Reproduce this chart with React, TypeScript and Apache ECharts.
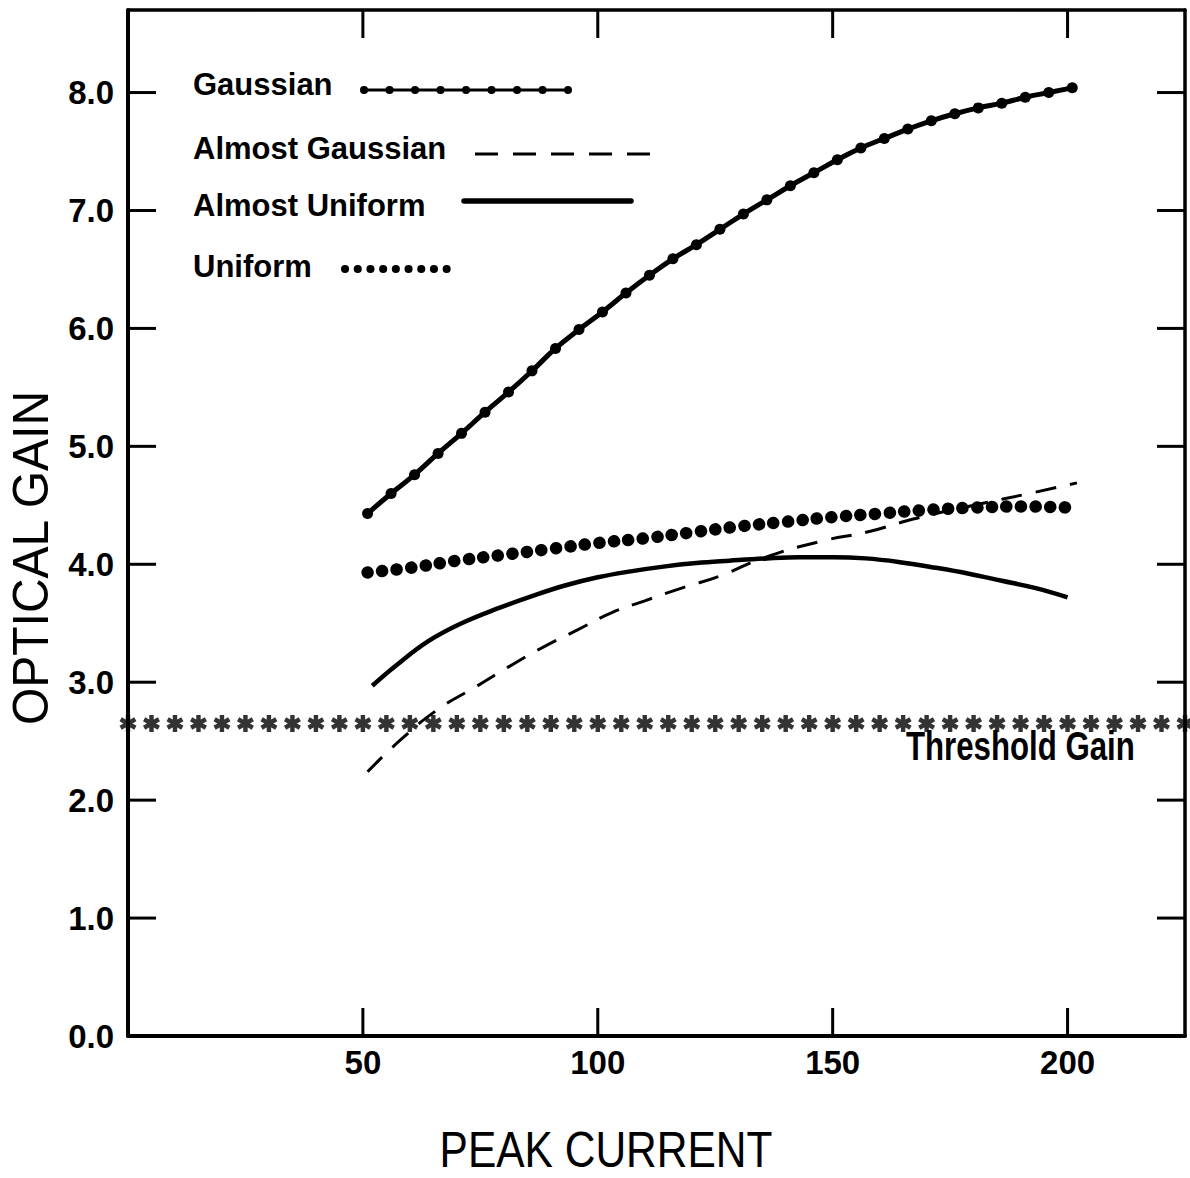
import React, { useEffect, useRef } from "react";
import * as echarts from "echarts";

// ---- data ----
const X_TICKS = [50, 100, 150, 200];
const Y_TICKS = [0, 1, 2, 3, 4, 5, 6, 7, 8];

const GAUSS_X = [51, 56, 61, 66, 71, 76, 81, 86, 91, 96, 101, 106, 111, 116, 121, 126, 131, 136, 141, 146, 151, 156, 161, 166, 171, 176, 181, 186, 191, 196, 201];
const GAUSS_Y = [4.43, 4.6, 4.76, 4.94, 5.11, 5.29, 5.46, 5.64, 5.83, 5.99, 6.14, 6.3, 6.45, 6.59, 6.71, 6.84, 6.97, 7.09, 7.21, 7.32, 7.43, 7.53, 7.61, 7.69, 7.76, 7.82, 7.87, 7.91, 7.96, 8.0, 8.04];

const ALMOST_GAUSS_X = [51, 58, 66, 74, 81, 88.5, 96, 103, 110, 118, 126, 135, 147, 158, 165, 172, 180, 193, 202];
const ALMOST_GAUSS_Y = [2.24, 2.51, 2.77, 2.96, 3.13, 3.3, 3.45, 3.59, 3.69, 3.8, 3.9, 4.05, 4.19, 4.28, 4.36, 4.43, 4.5, 4.61, 4.69];

const ALMOST_UNIF_X = [52, 57, 64, 71, 79, 86, 93, 100, 107, 114, 121, 128, 136, 143, 150, 157, 164, 172, 179, 186, 193, 200];
const ALMOST_UNIF_Y = [2.97, 3.14, 3.35, 3.5, 3.63, 3.73, 3.82, 3.89, 3.94, 3.98, 4.01, 4.03, 4.05, 4.06, 4.06, 4.05, 4.02, 3.97, 3.92, 3.86, 3.8, 3.72];

const UNIF_X = [51, 60, 70, 80, 90, 100, 110, 120, 130, 140, 150, 160, 170, 180, 190, 201];
const UNIF_Y = [3.93, 3.97, 4.03, 4.08, 4.13, 4.18, 4.22, 4.27, 4.32, 4.36, 4.4, 4.43, 4.46, 4.48, 4.49, 4.48];

const THRESHOLD_GAIN = 2.65;
const THRESHOLD_STAR_X = [0, 5, 10, 15, 20, 25, 30, 35, 40, 45, 50, 55, 60, 65, 70, 75, 80, 85, 90, 95, 100, 105, 110, 115, 120, 125, 130, 135, 140, 145, 150, 155, 160, 165, 170, 175, 180, 185, 190, 195, 200, 205, 210, 215, 220, 225];

const LEGEND_NAMES = ["Gaussian", "Almost Gaussian", "Almost Uniform", "Uniform"];

const X_MIN = 0;
const X_MAX = 225;
const Y_MIN = 0;
const Y_MAX = 8.7;

const FONT = "'Liberation Sans', Arial, Helvetica, sans-serif";

const zip = (xs: number[], ys: number[]) => xs.map((x, i) => [x, ys[i]]);

const STAR_PATH =
  "path://M7.4 0L12.6 0L12.6 20L7.4 20Z M17.36 2.75L19.96 7.25L2.64 17.25L0.04 12.75Z M19.96 12.75L17.36 17.25L0.04 7.25L2.64 2.75Z";

export default function App() {
  const ref = useRef<HTMLDivElement>(null);

  useEffect(() => {
    document.body.style.margin = "0";
    if (!ref.current) return;
    const chart = echarts.init(ref.current, undefined, { renderer: "svg" });

    const GRID = { left: 128, top: 10, width: 1057, height: 1026 };
    const TICK_LEN = 28;

    const axisLine = (w: number) => ({ show: true, onZero: false, lineStyle: { color: "#000", width: w } });

    const option: any = {
      animation: false,
      backgroundColor: "#fff",
      grid: { ...GRID, containLabel: false },
      xAxis: [
        {
          type: "value",
          min: X_MIN,
          max: X_MAX,
          interval: 50,
          position: "bottom",
          axisLine: axisLine(4),
          axisTick: { show: false },
          splitLine: { show: false },
          axisLabel: {
            margin: 10,
            color: "#000",
            fontFamily: FONT,
            fontWeight: "bold",
            fontSize: 33,
            formatter: (v: number) => (X_TICKS.includes(v) ? String(v) : ""),
          },
        },
        {
          type: "value",
          min: X_MIN,
          max: X_MAX,
          interval: 50,
          position: "top",
          axisLine: axisLine(3.5),
          axisTick: { show: false },
          splitLine: { show: false },
          axisLabel: { show: false },
        },
      ],
      yAxis: [
        {
          type: "value",
          min: Y_MIN,
          max: Y_MAX,
          interval: 1,
          position: "left",
          axisLine: axisLine(4),
          axisTick: { show: false },
          splitLine: { show: false },
          axisLabel: {
            margin: 14,
            color: "#000",
            fontFamily: FONT,
            fontWeight: "bold",
            fontSize: 33,
            formatter: (v: number) => (Y_TICKS.includes(v) ? v.toFixed(1) : ""),
          },
        },
        {
          type: "value",
          min: Y_MIN,
          max: Y_MAX,
          interval: 1,
          position: "right",
          axisLine: axisLine(3.5),
          axisTick: { show: false },
          splitLine: { show: false },
          axisLabel: { show: false },
        },
      ],
      series: [
        {
          name: LEGEND_NAMES[0],
          type: "line",
          data: zip(GAUSS_X, GAUSS_Y),
          smooth: true,
          symbol: "circle",
          symbolSize: 11,
          showSymbol: true,
          itemStyle: { color: "#000" },
          lineStyle: { color: "#000", width: 5 },
        },
        {
          name: LEGEND_NAMES[1],
          type: "line",
          data: zip(ALMOST_GAUSS_X, ALMOST_GAUSS_Y),
          smooth: true,
          symbol: "none",
          lineStyle: { color: "#000", width: 3, type: [21, 14] },
        },
        {
          name: LEGEND_NAMES[2],
          type: "line",
          data: zip(ALMOST_UNIF_X, ALMOST_UNIF_Y),
          smooth: 0.4,
          symbol: "none",
          lineStyle: { color: "#000", width: 4.5 },
        },
        {
          name: LEGEND_NAMES[3],
          type: "line",
          data: zip(UNIF_X, UNIF_Y),
          smooth: true,
          symbol: "none",
          lineStyle: { color: "#000", width: 12.5, type: [0.1, 14.5], cap: "round" },
        },
        {
          name: "Threshold Gain",
          type: "scatter",
          data: THRESHOLD_STAR_X.map((x) => [x, THRESHOLD_GAIN]),
          symbol: STAR_PATH,
          symbolKeepAspect: true,
          symbolSize: 17,
          itemStyle: { color: "#000" },
          clip: false,
        },
      ],
    };

    chart.setOption(option);

    // inward tick marks on all four sides, positioned through the axes' own scales
    const px = (x: number, y: number): [number, number] => {
      const p = chart.convertToPixel({ xAxisIndex: 0, yAxisIndex: 0 }, [x, y]) as number[];
      return [p[0], p[1]];
    };
    const ticks: any[] = [];
    const addTick = (id: string, x1: number, y1: number, x2: number, y2: number) =>
      ticks.push({ id, type: "line", shape: { x1, y1, x2, y2 }, style: { stroke: "#000", lineWidth: 3 } });
    X_TICKS.forEach((v) => {
      const [bx, by] = px(v, Y_MIN);
      const [tx, ty] = px(v, Y_MAX);
      addTick("tb" + v, bx, by, bx, by - TICK_LEN);
      addTick("tt" + v, tx, ty, tx, ty + TICK_LEN);
    });
    Y_TICKS.forEach((v) => {
      const [lx, ly] = px(X_MIN, v);
      const [rx, ry] = px(X_MAX, v);
      addTick("tl" + v, lx, ly, lx + TICK_LEN, ly);
      addTick("tr" + v, rx, ry, rx - TICK_LEN, ry);
    });

    const graphic: any[] = [
      ...ticks,
      // axis titles
      {
        id: "xname",
        type: "text",
        x: 606,
        y: 1150,
        scaleX: 0.85,
        style: {
          text: "PEAK CURRENT",
          fontFamily: FONT,
          fontSize: 50,
          fill: "#000",
          align: "center",
          verticalAlign: "middle",
        },
      },
      {
        id: "yname",
        type: "text",
        x: 31,
        y: 558,
        rotation: Math.PI / 2,
        scaleX: 0.96,
        style: {
          text: "OPTICAL GAIN",
          fontFamily: FONT,
          fontSize: 50,
          fill: "#000",
          align: "center",
          verticalAlign: "middle",
        },
      },
      // threshold label
      {
        id: "thr",
        type: "text",
        x: 906,
        y: 747,
        scaleX: 0.78,
        style: {
          text: "Threshold Gain",
          fontFamily: FONT,
          fontWeight: "bold",
          fontSize: 40,
          fill: "#000",
          align: "left",
          verticalAlign: "middle",
        },
      },
      // legend texts
      ...[84, 148, 205, 266].map((y, i) => ({
        id: "lt" + i,
        type: "text",
        x: 193,
        y,
        style: {
          text: LEGEND_NAMES[i],
          fontFamily: FONT,
          fontWeight: "bold",
          fontSize: 31,
          fill: "#000",
          align: "left",
          verticalAlign: "middle",
        },
      })),
      // legend samples
      {
        id: "ls0a",
        type: "line",
        shape: { x1: 362, y1: 90, x2: 568, y2: 90 },
        style: { stroke: "#000", lineWidth: 3 },
      },
      {
        id: "ls0b",
        type: "line",
        shape: { x1: 364, y1: 90, x2: 568, y2: 90 },
        style: { stroke: "#000", lineWidth: 8, lineDash: [0.1, 25.4], lineCap: "round" },
      },
      {
        id: "ls1",
        type: "line",
        shape: { x1: 475, y1: 154, x2: 660, y2: 154 },
        style: { stroke: "#000", lineWidth: 3, lineDash: [23, 15] },
      },
      {
        id: "ls2",
        type: "line",
        shape: { x1: 464, y1: 201, x2: 631, y2: 201 },
        style: { stroke: "#000", lineWidth: 5.5, lineCap: "round" },
      },
      {
        id: "ls3",
        type: "line",
        shape: { x1: 345, y1: 269, x2: 447, y2: 269 },
        style: { stroke: "#000", lineWidth: 8, lineDash: [0.1, 12.6], lineCap: "round" },
      },
    ];

    chart.setOption({ graphic });
    return () => chart.dispose();
  }, []);

  return <div ref={ref} style={{ width: 1190, height: 1178 }} />;
}
